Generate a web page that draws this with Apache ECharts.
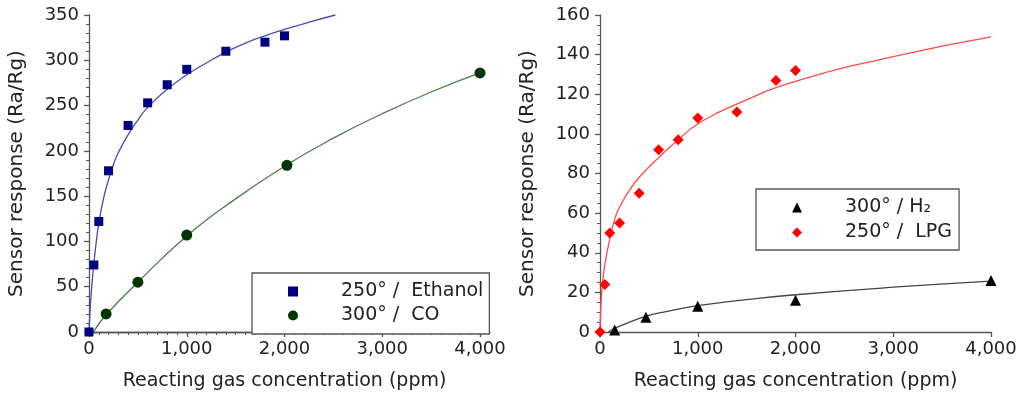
<!DOCTYPE html>
<html>
<head>
<meta charset="utf-8">
<script src="https://cdn.jsdelivr.net/npm/echarts@6/dist/echarts.min.js"></script>
<style>
html,body{margin:0;padding:0;background:#fff;}
#c{width:1024px;height:398px;}
</style>
</head>
<body>
<div id="c"></div>
<script>
// ---- data ----
const ethanolConc = [0, 50, 100, 200, 400, 600, 800, 1000, 1400, 1800, 2000];
const ethanolResp = [0, 74, 122, 178, 228, 253, 273, 290, 310, 320, 327];
const coConc = [175, 500, 1000, 2025, 4000];
const coResp = [20, 55, 107, 184, 286];
// fitted curves
const ethanolFitConc = [0, 10, 25, 50, 75, 100, 150, 200, 250, 300, 400, 500, 600, 800, 1000, 1200, 1400, 1600, 1800, 2000, 2250, 2520];
const ethanolFitResp = [0, 22, 46, 76, 100, 120, 148, 168, 185, 198, 218, 234, 248, 268, 284, 297, 309, 319, 327, 334, 342, 350];
const coFitConc = [45, 175, 500, 1000, 1500, 2000, 2500, 3000, 3500, 4000];
const coFitResp = [0, 19, 55, 106, 147, 183, 214, 241, 265, 286];

const lpgConc = [0, 50, 100, 200, 400, 600, 800, 1000, 1400, 1800, 2000];
const lpgResp = [0, 24, 50, 55, 70, 92, 97, 108, 111, 127, 132];
const h2Conc = [150, 470, 1000, 2000, 4000];
const h2Resp = [1, 7.5, 13, 16, 26];
const lpgFitConc = [0, 10, 25, 50, 100, 150, 200, 300, 400, 600, 800, 1000, 1400, 2000, 3000, 4000];
const lpgFitResp = [0, 14, 24, 34, 47, 57, 63, 71.5, 78, 88, 97, 105, 115, 126.5, 139, 149];
const h2FitConc = [85, 150, 273, 460, 665, 1000, 1500, 2000, 3000, 4000];
const h2FitResp = [0, 1.8, 4.4, 7.8, 10.2, 13.3, 16.3, 18.8, 22.6, 25.7];

const legendLeft = ['250° /  Ethanol', '300° /  CO'];
const legendRight = ['300° / H₂', '250° /  LPG'];
const xTitle = 'Reacting gas concentration (ppm)';
const yTitle = 'Sensor response (Ra/Rg)';

function pairs(xs, ys) { return xs.map((x, i) => [x, ys[i]]); }

const FONT = 'DejaVu Sans';
const AX = '#555';
const TXT = '#222';
const fmt = v => String(v).replace(/\B(?=(\d{3})+(?!\d))/g, ',');

function xAxisCfg(grid, max, minorSplit) {
  return {
    type: 'value', gridIndex: grid, min: 0, max: max, interval: 1000,
    name: xTitle, nameLocation: 'middle', nameGap: 40,
    nameTextStyle: { fontFamily: FONT, fontSize: 19, color: TXT },
    axisLine: { show: true, lineStyle: { color: AX, width: 1.3 } },
    axisTick: { show: true, inside: false, length: 5, lineStyle: { color: AX, width: 1.3 } },
    minorTick: { show: minorSplit > 0, splitNumber: minorSplit || 5, length: 3, lineStyle: { color: AX, width: 1 } },
    splitLine: { show: false },
    axisLabel: { fontFamily: FONT, fontSize: 18, color: TXT, margin: 8, formatter: fmt }
  };
}
function yAxisCfg(grid, max, interval, minorSplit) {
  return {
    type: 'value', gridIndex: grid, min: 0, max: max, interval: interval,
    name: yTitle, nameLocation: 'middle', nameGap: 62, nameRotate: 90,
    nameTextStyle: { fontFamily: FONT, fontSize: 20, color: TXT },
    axisLine: { show: true, lineStyle: { color: AX, width: 1.3 } },
    axisTick: { show: true, inside: false, length: 5, lineStyle: { color: AX, width: 1.3 } },
    minorTick: { show: true, splitNumber: minorSplit, length: 3, lineStyle: { color: AX, width: 1 } },
    splitLine: { show: false },
    axisLabel: { fontFamily: FONT, fontSize: 18, color: TXT, margin: 10 }
  };
}

const chart = echarts.init(document.getElementById('c'), null, { renderer: 'canvas' });
const option = {
  animation: false,
  backgroundColor: '#fff',
  grid: [
    { left: 89, top: 15, width: 391, height: 317 },
    { left: 89, top: 15, width: 401, height: 317 },
    { left: 600, top: 15, width: 391, height: 317 }
  ],
  xAxis: [
    xAxisCfg(0, 4000, 10),
    { type: 'value', gridIndex: 1, min: 0, max: 4100, axisLine: { show: true, lineStyle: { color: AX, width: 1.3 } },
      axisTick: { show: false }, axisLabel: { show: false }, splitLine: { show: false } },
    xAxisCfg(2, 4000, 0)
  ],
  yAxis: [
    yAxisCfg(0, 350, 50, 5),
    { type: 'value', gridIndex: 1, min: 0, max: 350, show: false },
    yAxisCfg(2, 160, 20, 4)
  ],
  legend: [
    {
      data: legendLeft, orient: 'vertical', left: 252, top: 273,
      padding: [9, 6, 9, 36], itemGap: 5, itemWidth: 10, itemHeight: 10,
      borderColor: AX, borderWidth: 1.3, backgroundColor: '#fff',
      textStyle: { fontFamily: FONT, fontSize: 19, color: TXT, lineHeight: 18, padding: [0, 0, 0, 38] }
    },
    {
      data: legendRight, orient: 'vertical', left: 756, top: 189,
      padding: [9, 7, 8, 36], itemGap: 6, itemWidth: 10, itemHeight: 10,
      borderColor: AX, borderWidth: 1.3, backgroundColor: '#fff',
      textStyle: { fontFamily: FONT, fontSize: 19, color: TXT, lineHeight: 18, padding: [0, 0, 0, 38] }
    }
  ],
  series: [
    { type: 'line', name: 'ethanolFit', xAxisIndex: 0, yAxisIndex: 0, data: pairs(ethanolFitConc, ethanolFitResp),
      showSymbol: false, smooth: 0.5, clip: false, lineStyle: { color: '#4a4aaf', width: 1.3 }, z: 2 },
    { type: 'line', name: 'coFit', xAxisIndex: 0, yAxisIndex: 0, data: pairs(coFitConc, coFitResp),
      showSymbol: false, smooth: 0.5, lineStyle: { color: '#4d7a4d', width: 1.3 }, z: 2 },
    { type: 'scatter', name: legendLeft[0], xAxisIndex: 0, yAxisIndex: 0, data: pairs(ethanolConc, ethanolResp),
      symbol: 'rect', symbolSize: 9, itemStyle: { color: '#000080', opacity: 1 }, z: 3 },
    { type: 'scatter', name: legendLeft[1], xAxisIndex: 0, yAxisIndex: 0, data: pairs(coConc, coResp),
      symbol: 'circle', symbolSize: 11, itemStyle: { color: '#023402', opacity: 1 }, z: 3 },

    { type: 'line', name: 'lpgFit', xAxisIndex: 2, yAxisIndex: 2, data: pairs(lpgFitConc, lpgFitResp),
      showSymbol: false, smooth: 0.5, lineStyle: { color: '#ff4a4a', width: 1.3 }, z: 2 },
    { type: 'line', name: 'h2Fit', xAxisIndex: 2, yAxisIndex: 2, data: pairs(h2FitConc, h2FitResp),
      showSymbol: false, smooth: 0.5, lineStyle: { color: '#444', width: 1.3 }, z: 2 },
    { type: 'scatter', name: legendRight[0], xAxisIndex: 2, yAxisIndex: 2, data: pairs(h2Conc, h2Resp),
      symbol: 'triangle', symbolSize: 11, itemStyle: { color: '#000', opacity: 1 }, z: 3 },
    { type: 'scatter', name: legendRight[1], xAxisIndex: 2, yAxisIndex: 2, data: pairs(lpgConc, lpgResp),
      symbol: 'diamond', symbolSize: 11, itemStyle: { color: '#ff0000', opacity: 1 }, z: 3 }
  ]
};
chart.setOption(option);
</script>
</body>
</html>
